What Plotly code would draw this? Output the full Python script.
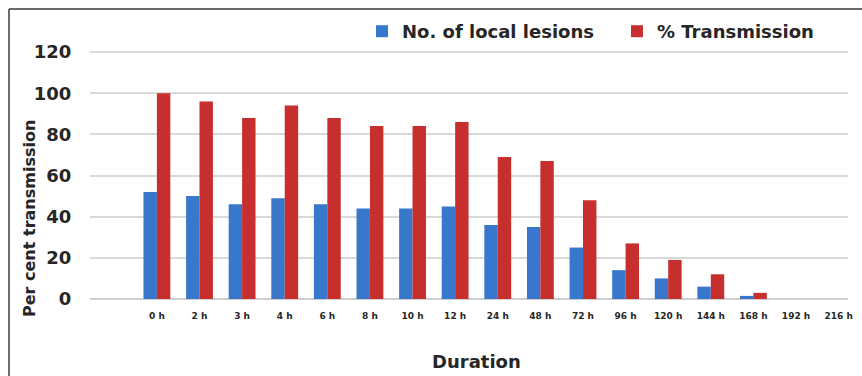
import plotly.graph_objects as go

# Duration after treatment
durations = ["0 h", "2 h", "3 h", "4 h", "6 h", "8 h", "10 h", "12 h", "24 h",
             "48 h", "72 h", "96 h", "120 h", "144 h", "168 h", "192 h", "216 h"]

# Number of local lesions per duration
local_lesions = [52, 50, 46, 49, 46, 44, 44, 45, 36, 35, 25, 14, 10, 6, 1.5, 0, 0]

# Per cent transmission per duration
transmission = [100, 96, 88, 94, 88, 84, 84, 86, 69, 67, 48, 27, 19, 12, 3, 0, 0]

y_ticks = [0, 20, 40, 60, 80, 100, 120]

W, H = 862, 376
L, R, T, B = 90, 14, 51, 77
pw, ph = W - L - R, H - T - B


def px_x(x):
    return (x - L) / pw


def px_y(y):
    return (H - B - y) / ph


FONT = "DejaVu Sans"
TXT = "#262626"

fig = go.Figure()
fig.add_trace(go.Bar(name="No. of local lesions", x=durations, y=local_lesions,
                     marker=dict(color="#3877cc", line=dict(width=0))))
fig.add_trace(go.Bar(name="% Transmission", x=durations, y=transmission,
                     marker=dict(color="#c62f2e", line=dict(width=0))))

fig.update_layout(
    width=W, height=H,
    margin=dict(l=L, r=R, t=T, b=B, autoexpand=False),
    paper_bgcolor="white", plot_bgcolor="white",
    barmode="group", bargap=0.37, bargroupgap=0,
    font=dict(family=FONT, color=TXT),
    showlegend=True,
    legend=dict(orientation="h", x=px_x(362), xanchor="left",
                y=px_y(13), yanchor="top",
                font=dict(family=FONT, size=18, color=TXT, weight="bold"),
                itemwidth=30, entrywidth=210, tracegroupgap=0,
                bgcolor="rgba(0,0,0,0)"),
    xaxis=dict(type="category", range=[-1.57, 16.22], showgrid=False,
               showline=False, zeroline=False,
               ticks="outside", ticklen=8, tickcolor="rgba(0,0,0,0)",
               tickfont=dict(family=FONT, size=9, color=TXT, weight="bold")),
    yaxis=dict(range=[0, 120.5], tickvals=y_ticks, showgrid=True,
               gridcolor="#d9d9d9", gridwidth=2, zeroline=True,
               zerolinecolor="#cfcfcf", zerolinewidth=2, showline=False,
               ticks="outside", ticklen=14, tickcolor="rgba(0,0,0,0)",
               tickfont=dict(family=FONT, size=18, color=TXT, weight="bold")),
    annotations=[
        dict(text="Per cent transmission", xref="paper", yref="paper",
             x=px_x(29), y=px_y(219), textangle=-90, showarrow=False,
             xanchor="center", yanchor="middle",
             font=dict(family=FONT, size=16, color=TXT, weight="bold")),
        dict(text="Duration", xref="paper", yref="paper",
             x=px_x(476), y=px_y(361), showarrow=False,
             xanchor="center", yanchor="middle",
             font=dict(family=FONT, size=18, color=TXT, weight="bold")),
    ],
    shapes=[
        dict(type="line", xref="paper", yref="paper",
             x0=px_x(9), x1=px_x(W + 2), y0=px_y(9), y1=px_y(9),
             line=dict(color="#3a3a3a", width=1.5)),
        dict(type="line", xref="paper", yref="paper",
             x0=px_x(9), x1=px_x(9), y0=px_y(9), y1=px_y(H + 2),
             line=dict(color="#3a3a3a", width=1.5)),
    ],
)

fig.write_html("out.html")
